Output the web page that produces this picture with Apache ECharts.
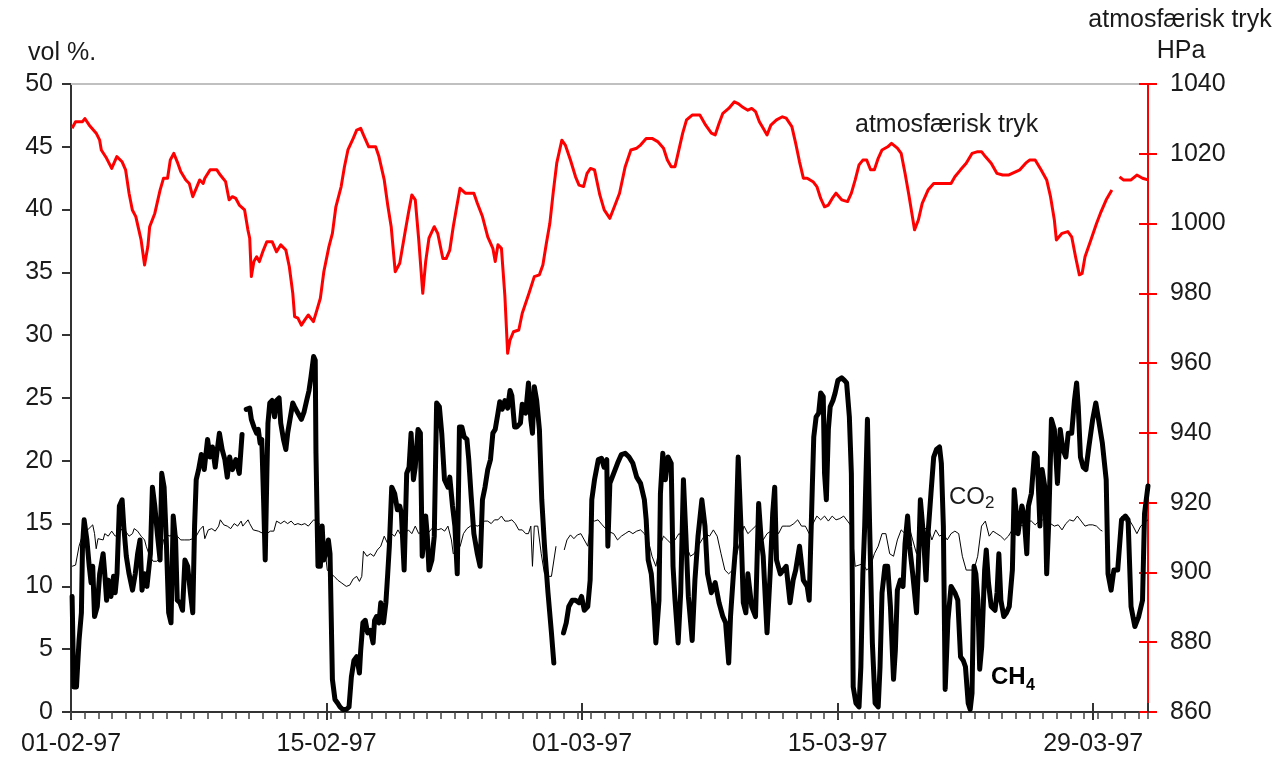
<!DOCTYPE html>
<html><head><meta charset="utf-8">
<script src="https://cdn.jsdelivr.net/npm/echarts@6/dist/echarts.min.js"></script>
<style>html,body{margin:0;padding:0;background:#fff}#c{width:1281px;height:762px}</style>
</head><body><div id="c"></div>
<script>
// x values: days since 01-02-97
const tickDays = [0, 14, 28, 42, 56];
const tickLabels = ['01-02-97', '15-02-97', '01-03-97', '15-03-97', '29-03-97'];

// Atmospheric pressure, hPa (right axis)
const pressure = [[0.06,1027.3],[0.25,1029.2],[0.63,1029.2],[0.76,1030.1],[1.00,1028.2],[1.38,1025.9],[1.57,1023.9],[1.66,1021.1],[1.95,1018.7],[2.23,1015.8],[2.51,1019.2],[2.80,1017.7],[2.99,1015.4],[3.18,1008.7],[3.36,1003.9],[3.55,1002.0],[3.84,995.3],[4.03,988.1],[4.21,993.4],[4.31,999.1],[4.59,1002.9],[4.88,1009.6],[5.07,1013.0],[5.29,1013.0],[5.44,1018.2],[5.63,1020.1],[5.82,1017.7],[6.01,1014.9],[6.29,1012.5],[6.48,1011.5],[6.67,1007.7],[6.86,1010.1],[7.05,1012.5],[7.24,1011.5],[7.33,1013.0],[7.62,1015.4],[7.99,1015.4],[8.18,1013.9],[8.47,1012.0],[8.66,1006.8],[8.84,1007.7],[9.03,1007.2],[9.22,1005.3],[9.51,1003.9],[9.69,998.2],[9.79,995.8],[9.88,984.8],[10.02,989.1],[10.17,990.5],[10.32,989.1],[10.54,992.4],[10.73,994.8],[11.02,994.8],[11.26,991.9],[11.49,993.9],[11.77,992.4],[11.96,987.6],[12.15,980.0],[12.25,973.3],[12.43,972.9],[12.62,970.9],[12.81,972.4],[13.00,973.8],[13.28,971.9],[13.47,975.2],[13.66,978.6],[13.85,986.2],[14.13,993.4],[14.32,997.2],[14.51,1004.8],[14.80,1010.6],[14.98,1016.3],[15.17,1021.1],[15.46,1024.4],[15.65,1026.8],[15.87,1027.3],[16.02,1025.4],[16.31,1022.0],[16.69,1022.0],[16.87,1019.2],[17.16,1012.5],[17.35,1005.3],[17.54,999.1],[17.76,986.2],[18.01,988.6],[18.29,997.2],[18.48,1002.9],[18.67,1008.2],[18.86,1006.8],[19.05,995.3],[19.27,980.0],[19.43,989.1],[19.61,995.8],[19.90,999.1],[20.09,997.2],[20.37,990.0],[20.56,990.0],[20.75,992.4],[20.94,999.1],[21.13,1004.8],[21.31,1010.1],[21.60,1008.7],[21.88,1008.7],[22.07,1008.7],[22.26,1005.8],[22.54,1002.0],[22.83,996.2],[23.11,992.9],[23.24,989.1],[23.39,993.9],[23.58,992.9],[23.77,979.1],[23.92,962.8],[24.05,966.6],[24.24,969.0],[24.53,969.5],[24.72,974.3],[25.09,980.0],[25.38,984.8],[25.66,985.3],[25.85,988.1],[26.04,994.3],[26.23,1000.0],[26.42,1009.1],[26.61,1017.3],[26.89,1023.9],[27.08,1022.5],[27.36,1018.2],[27.64,1013.4],[27.83,1011.0],[28.08,1010.6],[28.27,1014.4],[28.46,1015.8],[28.68,1015.4],[28.97,1008.2],[29.21,1003.9],[29.52,1001.5],[29.84,1005.8],[30.05,1008.7],[30.36,1016.3],[30.67,1021.1],[30.99,1021.6],[31.20,1022.5],[31.51,1024.4],[31.83,1024.4],[32.14,1023.5],[32.46,1021.6],[32.67,1018.2],[32.88,1016.3],[33.09,1016.3],[33.30,1021.1],[33.51,1025.9],[33.72,1029.7],[34.03,1031.1],[34.45,1031.1],[34.77,1028.2],[35.08,1025.9],[35.29,1025.4],[35.50,1028.7],[35.71,1031.6],[36.03,1033.0],[36.34,1034.9],[36.55,1034.4],[36.76,1033.5],[37.08,1032.5],[37.29,1033.0],[37.50,1032.1],[37.71,1029.2],[37.92,1027.3],[38.13,1025.4],[38.34,1028.2],[38.65,1029.7],[38.97,1030.6],[39.18,1030.2],[39.49,1027.8],[39.70,1023.0],[39.91,1017.7],[40.12,1013.0],[40.33,1013.0],[40.65,1012.0],[40.86,1010.6],[41.07,1007.2],[41.28,1004.8],[41.49,1005.3],[41.70,1007.2],[41.91,1008.7],[42.22,1006.8],[42.54,1006.3],[42.75,1008.7],[42.96,1012.5],[43.17,1016.8],[43.38,1018.2],[43.59,1018.2],[43.80,1015.4],[44.01,1015.4],[44.22,1018.7],[44.43,1021.1],[44.74,1022.0],[44.95,1023.0],[45.27,1021.6],[45.48,1020.1],[45.69,1014.4],[45.90,1008.2],[46.21,998.2],[46.42,1001.0],[46.63,1005.8],[46.95,1009.6],[47.26,1011.5],[47.58,1011.5],[47.89,1011.5],[48.21,1011.5],[48.42,1013.4],[48.73,1015.4],[49.04,1017.3],[49.36,1020.1],[49.67,1020.6],[49.88,1020.6],[50.09,1019.2],[50.41,1017.3],[50.72,1014.4],[51.04,1013.9],[51.35,1013.9],[51.56,1014.4],[51.98,1015.4],[52.30,1017.3],[52.51,1018.2],[52.82,1018.2],[53.14,1015.4],[53.45,1012.5],[53.66,1007.7],[53.87,1001.0],[53.98,995.3],[54.29,997.2],[54.61,997.7],[54.82,996.2],[55.03,990.5],[55.24,985.3],[55.39,985.7],[55.55,990.5],[55.87,995.3],[56.18,1000.0],[56.39,1002.9],[56.71,1006.8],[57.02,1009.6],[57.2,null],[57.44,1013.4],[57.65,1012.5],[58.07,1012.5],[58.39,1013.9],[58.70,1013.0],[59.0,1012.5]];

// CH4, vol % (left axis)
const ch4 = [[0.06,9.2],[0.15,2.0],[0.30,2.0],[0.44,5.7],[0.57,7.9],[0.63,13.2],[0.72,15.3],[0.87,13.7],[1.00,11.6],[1.10,10.3],[1.19,11.6],[1.29,7.6],[1.44,8.4],[1.57,11.0],[1.76,12.6],[1.85,11.0],[1.95,8.9],[2.04,10.5],[2.19,9.2],[2.33,10.8],[2.42,9.5],[2.52,11.0],[2.65,16.4],[2.80,16.9],[2.89,14.8],[3.03,12.4],[3.18,11.0],[3.37,9.7],[3.52,11.0],[3.65,12.6],[3.78,13.7],[3.89,9.7],[4.03,11.0],[4.16,10.0],[4.35,12.6],[4.46,17.9],[4.59,16.4],[4.73,14.2],[4.88,12.1],[4.97,19.0],[5.10,17.9],[5.22,13.7],[5.35,7.9],[5.48,7.1],[5.60,15.6],[5.73,13.7],[5.82,8.9],[5.97,8.7],[6.11,8.1],[6.24,12.1],[6.39,11.6],[6.54,9.5],[6.67,7.9],[6.77,14.8],[6.86,18.5],[6.99,19.3],[7.14,20.5],[7.30,19.3],[7.48,21.7],[7.62,20.3],[7.75,21.1],[7.90,19.5],[7.99,20.6],[8.13,22.2],[8.28,20.9],[8.43,20.1],[8.56,18.7],[8.69,20.3],[8.84,19.3],[9.03,20.1],[9.22,19.0],[9.37,22.1],[9.48,null],[9.60,24.1],[9.79,24.2],[9.88,23.3],[10.02,22.7],[10.17,22.2],[10.26,22.5],[10.36,21.4],[10.45,21.7],[10.55,16.9],[10.64,12.1],[10.73,19.0],[10.79,23.0],[10.89,24.6],[11.02,24.8],[11.15,23.5],[11.26,24.8],[11.40,25.0],[11.49,23.0],[11.64,21.7],[11.77,20.9],[11.87,22.2],[12.02,23.5],[12.15,24.6],[12.25,24.3],[12.43,23.8],[12.62,23.3],[12.77,23.9],[12.91,24.8],[13.04,25.6],[13.15,26.7],[13.29,28.3],[13.38,28.0],[13.42,20.6],[13.49,14.8],[13.53,11.6],[13.66,11.6],[13.76,14.8],[13.85,12.1],[13.95,12.6],[14.10,13.7],[14.19,12.6],[14.32,2.6],[14.46,1.0],[14.61,0.7],[14.74,0.4],[14.89,0.2],[15.08,0.2],[15.23,0.4],[15.36,2.8],[15.50,4.1],[15.65,4.4],[15.80,3.1],[15.87,4.9],[15.99,7.1],[16.12,7.3],[16.25,6.3],[16.40,6.5],[16.55,5.5],[16.63,7.3],[16.74,7.6],[16.87,7.1],[16.97,8.7],[17.12,7.1],[17.25,8.7],[17.35,11.0],[17.44,13.2],[17.57,17.9],[17.73,17.4],[17.88,16.1],[18.01,16.4],[18.10,15.8],[18.25,11.3],[18.39,19.0],[18.52,19.5],[18.63,22.2],[18.76,18.5],[18.86,19.5],[19.01,22.5],[19.14,22.2],[19.24,12.4],[19.33,13.7],[19.43,15.6],[19.52,14.0],[19.61,11.3],[19.77,12.1],[19.90,14.0],[20.03,24.6],[20.18,24.3],[20.31,22.2],[20.46,18.5],[20.65,17.9],[20.75,18.7],[20.90,16.4],[21.03,14.8],[21.16,11.0],[21.28,22.7],[21.41,22.7],[21.54,21.9],[21.69,21.7],[21.79,20.1],[21.92,17.2],[22.07,14.2],[22.26,12.6],[22.41,11.6],[22.54,16.9],[22.68,17.9],[22.83,19.3],[22.98,20.1],[23.11,22.2],[23.24,22.5],[23.39,23.8],[23.49,24.7],[23.62,24.1],[23.77,24.8],[23.92,24.2],[24.05,25.6],[24.15,25.2],[24.30,22.7],[24.43,22.7],[24.62,23.0],[24.72,24.5],[24.91,23.8],[25.06,26.2],[25.19,23.3],[25.28,22.2],[25.38,25.9],[25.51,24.8],[25.66,22.5],[25.79,16.9],[25.94,13.2],[26.13,9.5],[26.32,6.3],[26.45,3.9],[26.70,null],[26.98,6.3],[27.13,7.1],[27.27,8.4],[27.46,8.9],[27.64,8.9],[27.83,8.7],[27.97,9.2],[28.12,8.1],[28.31,8.4],[28.44,10.5],[28.53,16.9],[28.68,18.5],[28.89,20.1],[29.06,20.2],[29.20,19.5],[29.35,20.1],[29.41,13.2],[29.52,18.2],[29.73,19.0],[29.94,19.8],[30.15,20.5],[30.36,20.6],[30.57,20.3],[30.78,19.8],[30.99,18.7],[31.20,18.2],[31.41,16.9],[31.51,15.3],[31.62,12.1],[31.79,11.0],[31.93,8.4],[32.04,5.5],[32.21,8.9],[32.29,17.4],[32.42,20.6],[32.56,18.5],[32.71,20.3],[32.88,19.8],[32.98,11.6],[33.09,8.9],[33.26,5.5],[33.40,9.5],[33.55,18.5],[33.68,14.2],[33.82,9.2],[34.03,5.7],[34.18,10.5],[34.35,14.0],[34.56,16.9],[34.73,14.8],[34.87,11.0],[35.08,9.5],[35.29,10.3],[35.50,8.7],[35.71,7.6],[35.86,7.1],[36.03,3.9],[36.13,7.6],[36.28,10.8],[36.41,13.2],[36.55,20.3],[36.70,14.8],[36.83,8.7],[36.97,7.9],[37.08,11.0],[37.29,8.4],[37.50,7.6],[37.67,16.6],[37.81,13.7],[37.92,12.4],[38.13,6.3],[38.30,11.0],[38.44,15.8],[38.55,17.9],[38.65,12.1],[38.86,11.0],[39.18,11.6],[39.39,8.7],[39.56,10.5],[39.70,11.3],[39.91,13.2],[40.12,10.5],[40.33,10.0],[40.44,8.9],[40.61,17.9],[40.69,21.9],[40.82,23.5],[40.96,23.8],[41.07,25.4],[41.21,25.1],[41.28,19.0],[41.38,16.9],[41.49,22.5],[41.59,24.3],[41.74,24.8],[41.86,25.4],[42.01,26.4],[42.22,26.6],[42.37,26.4],[42.49,26.2],[42.64,23.5],[42.75,19.0],[42.85,2.0],[43.00,0.7],[43.17,0.4],[43.27,3.6],[43.38,11.0],[43.48,14.8],[43.63,23.3],[43.75,14.8],[43.90,5.5],[44.05,0.7],[44.22,0.4],[44.32,3.6],[44.43,9.5],[44.59,11.6],[44.74,11.6],[44.89,8.4],[45.06,2.6],[45.16,4.9],[45.27,9.7],[45.43,10.5],[45.58,10.0],[45.69,13.4],[45.83,15.6],[45.94,13.2],[46.11,11.0],[46.32,7.9],[46.42,11.6],[46.53,16.9],[46.69,14.2],[46.84,10.5],[46.95,14.2],[47.11,17.4],[47.26,20.3],[47.41,20.9],[47.58,21.1],[47.68,19.8],[47.79,14.8],[47.89,1.8],[48.04,7.3],[48.21,10.0],[48.42,9.5],[48.58,8.9],[48.73,4.4],[48.88,4.1],[49.00,3.6],[49.15,0.7],[49.26,0.2],[49.36,1.5],[49.47,11.6],[49.57,11.0],[49.68,8.9],[49.78,3.4],[49.89,5.2],[50.05,11.3],[50.14,12.9],[50.26,10.3],[50.41,8.4],[50.62,8.1],[50.73,9.5],[50.83,12.6],[50.94,8.9],[51.10,7.6],[51.25,7.9],[51.40,8.4],[51.57,11.3],[51.67,17.7],[51.88,14.2],[52.09,16.4],[52.20,15.8],[52.36,12.6],[52.45,16.4],[52.61,17.4],[52.78,20.6],[52.93,20.3],[53.08,14.8],[53.20,19.3],[53.35,17.9],[53.45,11.0],[53.56,15.0],[53.71,23.3],[53.87,22.5],[54.04,18.2],[54.19,22.5],[54.34,20.9],[54.50,20.3],[54.63,22.2],[54.82,22.2],[54.97,24.8],[55.09,26.2],[55.18,24.3],[55.30,20.3],[55.45,19.5],[55.60,19.3],[55.76,21.1],[55.97,23.3],[56.14,24.6],[56.29,23.3],[56.50,21.4],[56.71,18.5],[56.81,11.0],[56.98,9.7],[57.13,11.3],[57.34,11.3],[57.55,15.3],[57.76,15.6],[57.91,15.3],[58.07,8.4],[58.28,6.8],[58.49,7.6],[58.70,8.9],[58.81,15.8],[59.0,18.0]];

// CO2, vol % (left axis)
const co2 = [[0.06,11.6],[0.25,11.7],[0.44,13.2],[0.72,14.5],[0.91,14.5],[1.19,14.9],[1.29,14.2],[1.38,13.0],[1.48,13.8],[1.76,13.7],[1.85,14.2],[2.04,14.0],[2.23,14.4],[2.42,14.0],[2.61,14.2],[2.80,14.6],[2.99,14.4],[3.18,14.0],[3.37,14.2],[3.46,14.6],[3.65,14.4],[3.84,14.0],[4.03,13.7],[4.12,13.2],[4.31,12.4],[4.50,12.0],[4.69,12.0],[4.88,12.2],[5.07,13.7],[5.25,14.1],[5.44,14.0],[5.63,14.4],[5.82,14.0],[6.01,13.7],[6.20,13.7],[6.48,13.7],[6.67,13.8],[6.86,14.0],[7.05,14.5],[7.24,14.8],[7.33,13.8],[7.52,14.5],[7.71,14.6],[7.90,14.4],[8.09,14.8],[8.18,15.3],[8.37,14.9],[8.56,14.8],[8.75,14.6],[8.94,15.0],[9.13,14.8],[9.32,15.2],[9.41,14.8],[9.70,15.3],[9.79,15.0],[9.98,14.5],[10.26,14.4],[10.55,14.2],[10.73,14.2],[10.92,14.4],[11.11,14.4],[11.26,15.2],[11.49,15.0],[11.68,15.2],[11.87,15.0],[12.06,15.2],[12.25,14.9],[12.43,15.0],[12.62,14.9],[12.81,15.0],[13.00,14.8],[13.29,15.3],[13.47,15.2],[13.66,14.9],[13.85,13.7],[14.04,11.3],[14.23,11.0],[14.42,10.8],[14.61,10.5],[14.80,10.3],[15.08,10.0],[15.27,10.1],[15.46,10.6],[15.65,10.8],[15.80,10.4],[15.93,10.8],[16.02,12.8],[16.21,12.4],[16.40,12.6],[16.59,12.4],[16.78,12.9],[16.97,13.2],[17.16,14.0],[17.35,13.4],[17.54,14.2],[17.73,14.0],[17.91,14.5],[18.10,14.0],[18.29,14.2],[18.48,14.5],[18.67,14.2],[18.86,14.8],[19.05,14.2],[19.24,14.4],[19.43,14.0],[19.71,14.5],[19.90,14.8],[20.09,14.5],[20.28,14.6],[20.47,14.4],[20.65,14.8],[20.84,13.7],[20.94,12.6],[21.13,12.9],[21.32,13.2],[21.50,14.2],[21.69,14.6],[21.88,14.8],[22.07,14.9],[22.26,14.8],[22.45,14.9],[22.64,15.2],[22.83,15.2],[23.02,15.0],[23.20,15.3],[23.39,15.3],[23.58,15.6],[23.77,15.2],[23.96,15.2],[24.15,15.3],[24.34,15.0],[24.53,14.5],[24.72,14.5],[24.91,14.2],[25.06,14.2],[25.19,14.8],[25.28,11.6],[25.38,14.8],[25.57,14.8],[25.76,12.6],[25.94,11.0],[26.13,10.8],[26.32,10.8],[26.57,13.2],[26.80,null],[27.02,12.9],[27.17,13.7],[27.36,14.1],[27.55,13.8],[27.74,14.1],[27.93,14.2],[28.12,13.7],[28.31,13.2],[28.50,15.3],[28.68,15.2],[28.87,15.3],[29.10,14.9],[29.41,14.4],[29.73,14.2],[29.94,13.7],[30.15,14.0],[30.36,14.2],[30.57,14.4],[30.78,14.2],[30.99,14.4],[31.20,14.5],[31.41,14.2],[31.62,13.7],[31.83,12.4],[32.04,11.6],[32.25,13.2],[32.46,14.0],[32.67,13.7],[32.88,13.4],[33.09,13.7],[33.30,14.2],[33.51,14.0],[33.72,13.2],[33.93,12.4],[34.14,12.6],[34.35,13.2],[34.56,13.7],[34.77,14.2],[34.98,14.0],[35.19,14.5],[35.40,14.0],[35.61,12.6],[35.82,11.3],[36.03,11.0],[36.24,11.3],[36.45,12.4],[36.66,13.7],[36.87,14.8],[37.08,14.2],[37.29,14.5],[37.50,14.8],[37.71,14.8],[37.92,13.7],[38.13,14.2],[38.34,14.4],[38.55,14.8],[38.76,14.2],[38.97,14.8],[39.18,14.8],[39.39,14.8],[39.60,15.0],[39.81,15.3],[40.02,14.8],[40.23,14.8],[40.44,14.2],[40.65,15.0],[40.86,15.6],[41.07,15.3],[41.28,15.6],[41.49,15.2],[41.70,15.6],[41.91,15.3],[42.12,15.4],[42.33,15.6],[42.54,15.2],[42.75,14.8],[42.96,11.6],[43.17,11.7],[43.38,11.8],[43.59,11.3],[43.80,11.6],[44.01,12.6],[44.22,13.2],[44.43,14.2],[44.64,14.2],[44.85,12.6],[45.06,12.4],[45.27,13.7],[45.48,14.5],[45.69,14.2],[45.90,14.8],[46.11,13.7],[46.32,12.6],[46.53,14.2],[46.74,14.5],[46.95,14.8],[47.16,13.7],[47.37,14.5],[47.58,14.0],[47.79,14.2],[48.00,13.7],[48.21,14.2],[48.42,14.4],[48.63,14.2],[48.83,12.4],[49.04,11.3],[49.25,11.3],[49.46,11.3],[49.67,12.4],[49.88,14.8],[50.09,15.2],[50.30,14.0],[50.51,14.4],[50.72,14.2],[50.93,14.0],[51.14,13.7],[51.35,14.0],[51.56,14.5],[51.77,15.0],[51.98,14.9],[52.19,14.8],[52.40,15.2],[52.61,15.2],[52.82,14.9],[53.03,15.2],[53.24,15.3],[53.45,15.6],[53.66,15.0],[53.87,14.8],[54.08,14.9],[54.29,14.5],[54.50,15.0],[54.71,15.3],[54.92,15.2],[55.13,15.6],[55.34,15.2],[55.55,14.8],[55.76,14.9],[55.97,14.9],[56.18,14.8],[56.39,14.5],[56.50,14.4],[57.00,null],[57.55,15.6],[57.76,15.2],[57.97,15.3],[58.18,14.8],[58.39,14.2],[58.60,14.8],[58.91,15.2],[59.0,15.3]];

const FONT = '"Liberation Sans", Arial, sans-serif';
const TXT = '#1a1a1a';
const toData = arr => arr.map(p => [p[0], p[1] === null ? '-' : p[1]]);

const chart = echarts.init(document.getElementById('c'), null, {renderer: 'canvas'});
const baseX = {type: 'value', min: 0, max: 59, gridIndex: 0, splitLine: {show: false}};
chart.setOption({
  animation: false,
  backgroundColor: '#fff',
  textStyle: {fontFamily: FONT},
  grid: {left: 71, right: 133, top: 84, bottom: 50, containLabel: false},
  xAxis: [
    Object.assign({}, baseX, {
      position: 'bottom', interval: 14,
      axisLine: {show: true, onZero: false, lineStyle: {color: '#333', width: 2}},
      axisTick: {show: true, inside: false, length: 8, lineStyle: {color: '#333', width: 2}},
      axisLabel: {show: true, margin: 20, fontSize: 25, color: TXT, fontFamily: FONT, showMaxLabel: false,
        formatter: v => { const i = tickDays.indexOf(v); return i >= 0 ? tickLabels[i] : ''; }}
    }),
    Object.assign({}, baseX, {
      position: 'bottom', interval: 14,
      axisLine: {show: false, onZero: false},
      axisTick: {show: true, inside: true, length: 9, lineStyle: {color: '#333', width: 2}},
      axisLabel: {show: false}
    }),
    Object.assign({}, baseX, {
      position: 'bottom', interval: 0.75,
      axisLine: {show: false, onZero: false},
      axisTick: {show: true, inside: false, length: 7, lineStyle: {color: '#444', width: 1.5}},
      axisLabel: {show: false}
    }),
    Object.assign({}, baseX, {
      position: 'top',
      axisLine: {show: true, onZero: false, lineStyle: {color: '#c0c0c0', width: 2}},
      axisTick: {show: false}, axisLabel: {show: false}
    })
  ],
  yAxis: [
    {type: 'value', position: 'left', min: 0, max: 50, interval: 5,
      axisLine: {show: true, onZero: false, lineStyle: {color: '#333', width: 2}},
      axisTick: {show: true, inside: false, length: 9, lineStyle: {color: '#333', width: 2}},
      axisLabel: {margin: 18, fontSize: 25, color: TXT, fontFamily: FONT, formatter: v => String(v)},
      splitLine: {show: false}},
    {type: 'value', position: 'right', min: 860, max: 1040, interval: 20,
      axisLine: {show: true, onZero: false, lineStyle: {color: '#ff0000', width: 2}},
      axisTick: {show: true, inside: false, length: 9, lineStyle: {color: '#ff0000', width: 2}},
      axisLabel: {margin: 22, fontSize: 25, color: TXT, fontFamily: FONT, formatter: v => String(v)},
      splitLine: {show: false}},
    {type: 'value', position: 'right', min: 860, max: 1040, interval: 20,
      axisLine: {show: false, onZero: false},
      axisTick: {show: true, inside: true, length: 9, lineStyle: {color: '#ff0000', width: 2}},
      axisLabel: {show: false}, splitLine: {show: false}}
  ],
  series: [
    {name: 'CO2', type: 'line', xAxisIndex: 0, yAxisIndex: 0, data: toData(co2),
      showSymbol: false, symbol: 'none', silent: true, z: 2,
      lineStyle: {color: '#000', width: 1}},
    {name: 'CH4', type: 'line', xAxisIndex: 0, yAxisIndex: 0, data: toData(ch4),
      showSymbol: false, symbol: 'none', silent: true, z: 3,
      lineStyle: {color: '#000', width: 5, join: 'round', cap: 'round'}},
    {name: 'atmosfærisk tryk', type: 'line', xAxisIndex: 0, yAxisIndex: 1, data: toData(pressure),
      showSymbol: false, symbol: 'none', silent: true, z: 2,
      lineStyle: {color: '#ff0000', width: 3, join: 'round'}}
  ],
  graphic: [
    {type: 'text', x: 28, y: 53, style: {text: 'vol %.', font: '25px ' + FONT, fill: TXT, textAlign: 'left', textVerticalAlign: 'middle'}},
    {type: 'text', x: 1180, y: 20, style: {text: 'atmosfærisk tryk', font: '25px ' + FONT, fill: TXT, textAlign: 'center', textVerticalAlign: 'middle'}},
    {type: 'text', x: 1181, y: 51, style: {text: 'HPa', font: '25px ' + FONT, fill: TXT, textAlign: 'center', textVerticalAlign: 'middle'}},
    {type: 'text', x: 855, y: 125, style: {text: 'atmosfærisk tryk', font: '25px ' + FONT, fill: TXT, textAlign: 'left', textVerticalAlign: 'middle'}},
    {type: 'text', x: 949, y: 497, style: {text: 'CO', font: '24px ' + FONT, fill: TXT, textAlign: 'left', textVerticalAlign: 'middle'}},
    {type: 'text', x: 985, y: 503, style: {text: '2', font: '17px ' + FONT, fill: TXT, textAlign: 'left', textVerticalAlign: 'middle'}},
    {type: 'text', x: 991, y: 677, style: {text: 'CH', font: 'bold 24px ' + FONT, fill: '#000', textAlign: 'left', textVerticalAlign: 'middle'}},
    {type: 'text', x: 1026, y: 686, style: {text: '4', font: 'bold 16px ' + FONT, fill: '#000', textAlign: 'left', textVerticalAlign: 'middle'}}
  ]
});
</script>
</body></html>
